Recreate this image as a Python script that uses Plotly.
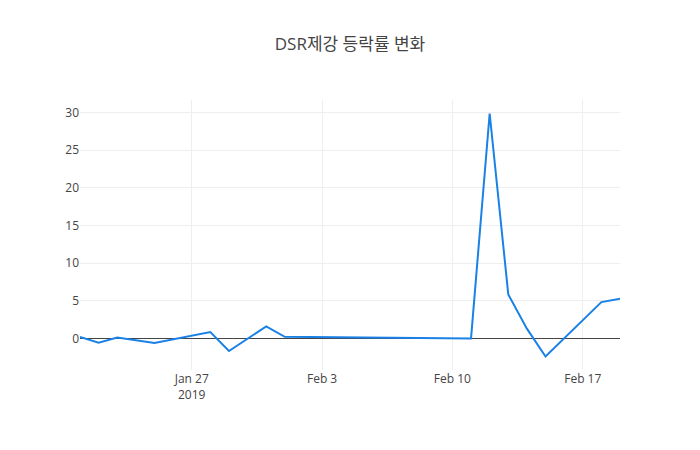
import plotly.graph_objects as go

dates = ["2019-01-21", "2019-01-22", "2019-01-23", "2019-01-25", "2019-01-28",
         "2019-01-29", "2019-01-31", "2019-02-01", "2019-02-11", "2019-02-12",
         "2019-02-13", "2019-02-14", "2019-02-15", "2019-02-18", "2019-02-19"]
rates = [0.2, -0.57, 0.13, -0.6, 0.84,
         -1.68, 1.6, 0.22, 0.0, 29.85,
         5.84, 1.3, -2.4, 4.82, 5.27]

fig = go.Figure()
fig.add_trace(go.Scatter(x=dates, y=rates, mode="lines",
                         line=dict(color="#1a81e6", width=2)))
fig.update_layout(
    title=dict(text="DSR제강 등락률 변화", x=0.5, xanchor="center"),
    width=700, height=450,
    plot_bgcolor="white", paper_bgcolor="white",
    font=dict(family="Open Sans, Noto Sans CJK KR, sans-serif", color="#444"),
    showlegend=False,
    xaxis=dict(showgrid=True, gridcolor="#eee", zeroline=False),
    yaxis=dict(showgrid=True, gridcolor="#eee", zeroline=True,
               zerolinecolor="#444", zerolinewidth=1),
)
fig.write_html("out.html")
